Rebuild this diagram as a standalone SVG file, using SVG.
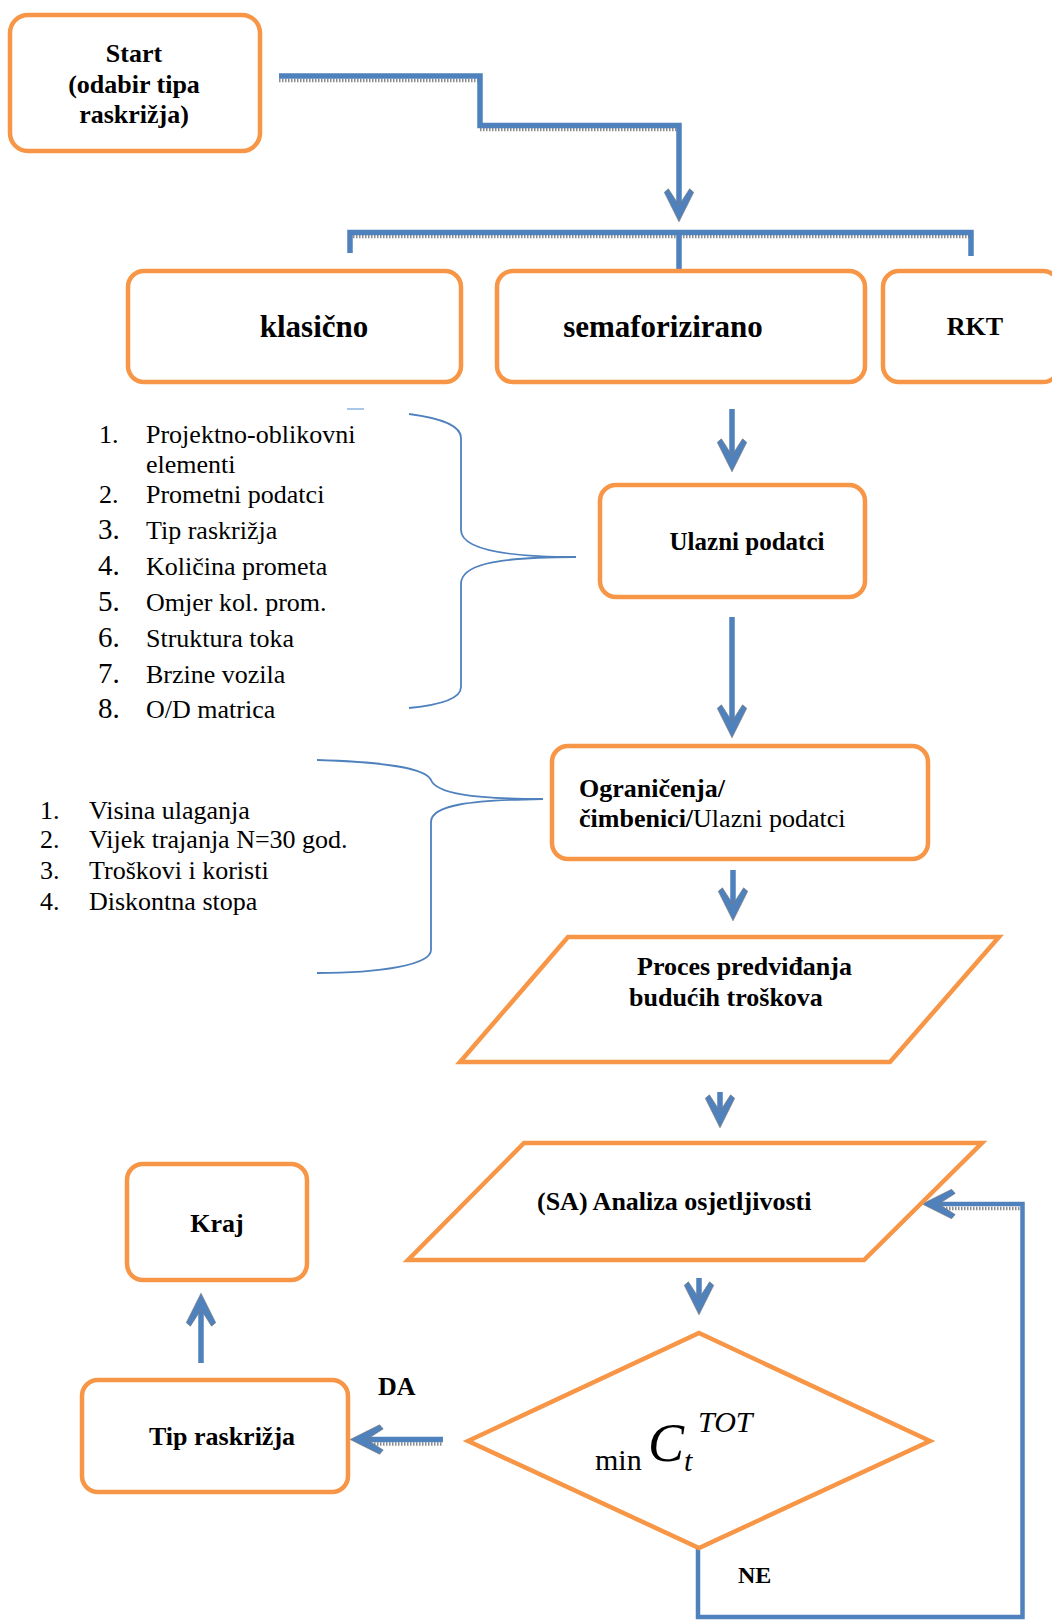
<svg xmlns="http://www.w3.org/2000/svg" width="1052" height="1621" viewBox="0 0 1052 1621">
<style>
  text { font-family: "Liberation Serif", "Times New Roman", serif; fill: #000; }
  .b { font-weight: bold; }
  .box { fill: #fff; stroke: #F79646; stroke-width: 4.5; }
  .conn { fill: none; stroke: #4F81BD; stroke-width: 5.5; stroke-linejoin: miter; }
  .thin { fill: none; stroke: #4F81BD; stroke-width: 4.5; }
  .shadow { fill: none; stroke: #8c8c8c; stroke-width: 3.5; stroke-dasharray: 1.5 1.5; }
  .brace { fill: none; stroke: #4F81BD; stroke-width: 1.8; }
  .li { font-size: 26px; }
  .num { font-size: 29px; }
</style>
<defs>
  <marker id="ah" markerUnits="userSpaceOnUse" markerWidth="40" markerHeight="40" refX="18" refY="0" viewBox="-2 -16 34 32" orient="auto" overflow="visible">
    <path d="M28,0 L3,-12.5 L0,-9 L14,0 L0,9 L3,12.5 Z" fill="#4F81BD" stroke="#7a7a7a" stroke-width="0.6"/>
  </marker>
</defs>

<g id="connectors">
  <path class="shadow" d="M279,80.5 H478"/>
  <path class="shadow" d="M480,129.5 H677"/>
  <path class="shadow" d="M350,236.5 H969"/>
  <path class="shadow" d="M362,1444 H443"/>
  <path class="shadow" d="M934,1208.5 H1020"/>
  <path class="conn" d="M279,76 H480 V125.5 H679 V210" marker-end="url(#ah)"/>
  <path class="conn" d="M350,253 V232.5 H971 V256"/>
  <path class="conn" d="M679,232.5 V272"/>
  <path class="conn" d="M732,409 V460" marker-end="url(#ah)"/>
  <path class="conn" d="M732,617 V726" marker-end="url(#ah)"/>
  <path class="conn" d="M733,870 V909" marker-end="url(#ah)"/>
  <path class="conn" d="M720,1092 V1116" marker-end="url(#ah)"/>
  <path class="conn" d="M699,1278 V1303" marker-end="url(#ah)"/>
  <path class="conn" d="M443,1439.5 H362" marker-end="url(#ah)"/>
  <path class="conn" d="M201,1363 V1305" marker-end="url(#ah)"/>
  <path class="thin" d="M698,1548 V1617 H1022.5 V1204 H934" marker-end="url(#ah)"/>
  <path class="brace" d="M409,414 C440,418 461,425 461,438 L461,530 C461,546 490,557 576,557 C490,557 461,566 461,584 L461,687 C461,699 440,705 409,708"/>
  <path d="M347,409 H364" stroke="#8EB4E3" stroke-width="1.5" fill="none"/>
  <path class="brace" d="M317,760 C380,762 425,767 431,780 C436,793 470,799 543,799 C470,800 431,805 431,822 L431,950 C431,965 380,973 317,973"/>
</g>

<g id="start">
  <rect class="box" x="10" y="15" width="250" height="136" rx="18"/>
  <text class="b" x="134" y="62" font-size="26" text-anchor="middle">Start</text>
  <text class="b" x="134" y="93" font-size="26" text-anchor="middle">(odabir tipa</text>
  <text class="b" x="134" y="123" font-size="26" text-anchor="middle">raskrižja)</text>
</g>

<g id="klasicno">
  <rect class="box" x="128" y="271" width="333" height="111" rx="16"/>
  <text class="b" x="314" y="337" font-size="31" text-anchor="middle">klasično</text>
</g>

<g id="semaforizirano">
  <rect class="box" x="497" y="271" width="368" height="111" rx="16"/>
  <text class="b" x="663" y="337" font-size="31" text-anchor="middle">semaforizirano</text>
</g>

<g id="rkt">
  <rect class="box" x="883" y="271" width="176" height="111" rx="16"/>
  <text class="b" x="975" y="335" font-size="26" text-anchor="middle">RKT</text>
</g>

<g id="ulazni">
  <rect class="box" x="600" y="485" width="265" height="112" rx="16"/>
  <text class="b" x="747" y="550" font-size="25" text-anchor="middle">Ulazni podatci</text>
</g>

<g id="list1">
  <text class="li" x="99" y="443">1.</text>
  <text class="li" x="146" y="443">Projektno-oblikovni</text>
  <text class="li" x="146" y="473">elementi</text>
  <text class="li" x="99" y="503">2.</text>
  <text class="li" x="146" y="503">Prometni podatci</text>
  <text class="num" x="98" y="539">3.</text>
  <text class="li" x="146" y="539">Tip raskrižja</text>
  <text class="num" x="98" y="575">4.</text>
  <text class="li" x="146" y="575">Količina prometa</text>
  <text class="num" x="98" y="611">5.</text>
  <text class="li" x="146" y="611">Omjer kol. prom.</text>
  <text class="num" x="98" y="647">6.</text>
  <text class="li" x="146" y="647">Struktura toka</text>
  <text class="num" x="98" y="683">7.</text>
  <text class="li" x="146" y="683">Brzine vozila</text>
  <text class="num" x="98" y="718">8.</text>
  <text class="li" x="146" y="718">O/D matrica</text>
</g>

<g id="ogranicenja">
  <rect class="box" x="552" y="746" width="376" height="113" rx="16"/>
  <text class="b" x="579" y="797" font-size="26">Ograničenja/</text>
  <text x="579" y="827" font-size="26"><tspan font-weight="bold">čimbenici/</tspan>Ulazni podatci</text>
</g>

<g id="list2">
  <text class="li" x="40" y="819">1.</text>
  <text class="li" x="89" y="819">Visina ulaganja</text>
  <text class="li" x="40" y="848">2.</text>
  <text class="li" x="89" y="848">Vijek trajanja N=30 god.</text>
  <text class="li" x="40" y="879">3.</text>
  <text class="li" x="89" y="879">Troškovi i koristi</text>
  <text class="li" x="40" y="910">4.</text>
  <text class="li" x="89" y="910">Diskontna stopa</text>
</g>

<g id="proces">
  <polygon class="box" points="568,937 999,937 890,1062 460,1062"/>
  <text class="b" x="637" y="975" font-size="26">Proces predviđanja</text>
  <text class="b" x="629" y="1006" font-size="26">budućih troškova</text>
</g>

<g id="analiza">
  <polygon class="box" points="524,1143 982,1143 864,1260 408,1260"/>
  <text class="b" x="537" y="1210" font-size="26">(SA) Analiza osjetljivosti</text>
</g>

<g id="odluka">
  <polygon class="box" points="699,1333 930,1441 699,1548 468,1441"/>
  <text x="595" y="1470" font-size="30">min</text>
  <text x="648" y="1461" font-size="54" font-style="italic">C</text>
  <text x="684" y="1471" font-size="30" font-style="italic">t</text>
  <text x="698" y="1432" font-size="30" font-style="italic">TOT</text>
</g>

<g id="tip">
  <rect class="box" x="82" y="1380" width="266" height="112" rx="16"/>
  <text class="b" x="222" y="1445" font-size="26" text-anchor="middle">Tip raskrižja</text>
</g>

<g id="kraj">
  <rect class="box" x="127" y="1164" width="180" height="116" rx="16"/>
  <text class="b" x="217" y="1232" font-size="26" text-anchor="middle">Kraj</text>
</g>

<g id="labels">
  <text class="b" x="378" y="1395" font-size="26">DA</text>
  <text class="b" x="738" y="1583" font-size="24">NE</text>
</g>
</svg>
